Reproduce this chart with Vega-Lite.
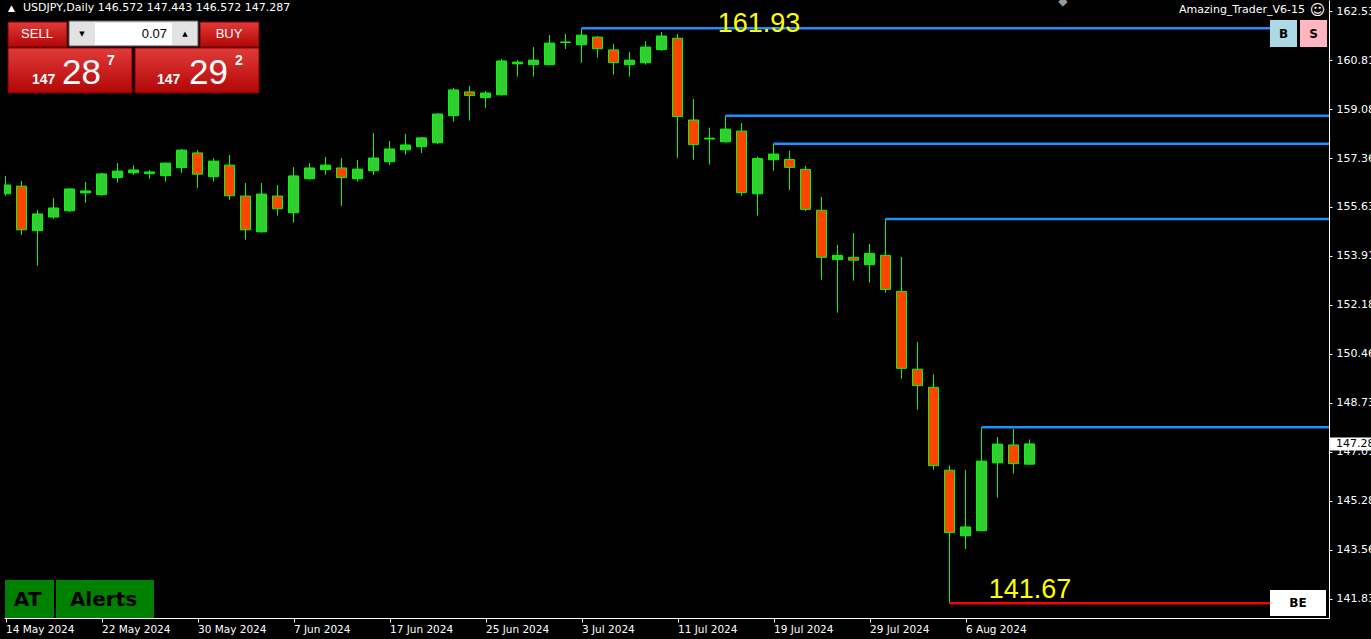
{
  "$schema": "https://vega.github.io/schema/vega-lite/v6.json",
  "width": 1325,
  "height": 618,
  "autosize": {"type": "none"},
  "padding": {"left": 4, "top": 0, "right": 42, "bottom": 21},
  "background": "#000000",
  "config": {
    "view": {"stroke": null, "fill": "#000000"},
    "scale": {"continuousPadding": 0},
    "axis": {"grid": false, "domainColor": "#FFFFFF", "tickColor": "#FFFFFF", "labelColor": "#FFFFFF", "labelFont": "DejaVu Sans"}
  },
  "datasets": {
    "candles": [
      {"i":0,"o":156.10,"h":156.73,"l":156.03,"c":156.41},
      {"i":1,"o":156.37,"h":156.55,"l":154.65,"c":154.83},
      {"i":2,"o":154.80,"h":155.53,"l":153.56,"c":155.39},
      {"i":3,"o":155.28,"h":155.95,"l":155.22,"c":155.60},
      {"i":4,"o":155.50,"h":156.29,"l":155.46,"c":156.27},
      {"i":5,"o":156.13,"h":156.52,"l":155.78,"c":156.20},
      {"i":6,"o":156.07,"h":156.84,"l":156.03,"c":156.80},
      {"i":7,"o":156.67,"h":157.18,"l":156.49,"c":156.90},
      {"i":8,"o":156.84,"h":157.11,"l":156.77,"c":156.94},
      {"i":9,"o":156.81,"h":156.94,"l":156.63,"c":156.87},
      {"i":10,"o":156.74,"h":157.20,"l":156.53,"c":157.18},
      {"i":11,"o":157.02,"h":157.68,"l":156.84,"c":157.64},
      {"i":12,"o":157.54,"h":157.64,"l":156.31,"c":156.79},
      {"i":13,"o":156.70,"h":157.36,"l":156.53,"c":157.25},
      {"i":14,"o":157.11,"h":157.47,"l":155.89,"c":156.03},
      {"i":15,"o":156.02,"h":156.48,"l":154.48,"c":154.83},
      {"i":16,"o":154.76,"h":156.48,"l":154.73,"c":156.09},
      {"i":17,"o":156.02,"h":156.41,"l":155.33,"c":155.57},
      {"i":18,"o":155.43,"h":157.04,"l":155.08,"c":156.73},
      {"i":19,"o":156.63,"h":157.18,"l":156.60,"c":157.01},
      {"i":20,"o":156.95,"h":157.40,"l":156.77,"c":157.11},
      {"i":21,"o":157.01,"h":157.36,"l":155.68,"c":156.67},
      {"i":22,"o":156.63,"h":157.29,"l":156.53,"c":156.97},
      {"i":23,"o":156.91,"h":158.24,"l":156.76,"c":157.36},
      {"i":24,"o":157.23,"h":157.96,"l":157.11,"c":157.68},
      {"i":25,"o":157.65,"h":158.21,"l":157.48,"c":157.82},
      {"i":26,"o":157.76,"h":158.10,"l":157.54,"c":158.07},
      {"i":27,"o":157.90,"h":158.93,"l":157.86,"c":158.91},
      {"i":28,"o":158.85,"h":159.83,"l":158.64,"c":159.76},
      {"i":29,"o":159.69,"h":159.90,"l":158.68,"c":159.56},
      {"i":30,"o":159.49,"h":159.72,"l":159.13,"c":159.65},
      {"i":31,"o":159.59,"h":160.85,"l":159.56,"c":160.78},
      {"i":32,"o":160.68,"h":160.81,"l":160.23,"c":160.74},
      {"i":33,"o":160.65,"h":161.27,"l":160.23,"c":160.81},
      {"i":34,"o":160.65,"h":161.69,"l":160.63,"c":161.41},
      {"i":35,"o":161.43,"h":161.73,"l":161.20,"c":161.45},
      {"i":36,"o":161.35,"h":161.93,"l":160.72,"c":161.69},
      {"i":37,"o":161.62,"h":161.66,"l":160.90,"c":161.21},
      {"i":38,"o":161.17,"h":161.38,"l":160.30,"c":160.72},
      {"i":39,"o":160.65,"h":161.10,"l":160.23,"c":160.81},
      {"i":40,"o":160.72,"h":161.48,"l":160.65,"c":161.27},
      {"i":41,"o":161.18,"h":161.80,"l":161.14,"c":161.66},
      {"i":42,"o":161.58,"h":161.73,"l":157.37,"c":158.82},
      {"i":43,"o":158.70,"h":159.44,"l":157.30,"c":157.83},
      {"i":44,"o":158.03,"h":158.43,"l":157.13,"c":158.06},
      {"i":45,"o":157.93,"h":158.85,"l":157.90,"c":158.38},
      {"i":46,"o":158.31,"h":158.59,"l":156.03,"c":156.14},
      {"i":47,"o":156.10,"h":157.41,"l":155.33,"c":157.34},
      {"i":48,"o":157.30,"h":157.86,"l":156.91,"c":157.50},
      {"i":49,"o":157.31,"h":157.62,"l":156.24,"c":157.03},
      {"i":50,"o":156.96,"h":157.09,"l":155.49,"c":155.55},
      {"i":51,"o":155.52,"h":155.99,"l":153.07,"c":153.86},
      {"i":52,"o":153.78,"h":154.30,"l":151.91,"c":153.93},
      {"i":53,"o":153.86,"h":154.72,"l":153.04,"c":153.76},
      {"i":54,"o":153.60,"h":154.33,"l":152.97,"c":154.00},
      {"i":55,"o":153.93,"h":155.21,"l":152.61,"c":152.73},
      {"i":56,"o":152.66,"h":153.87,"l":149.58,"c":149.95},
      {"i":57,"o":149.92,"h":150.88,"l":148.49,"c":149.34},
      {"i":58,"o":149.28,"h":149.74,"l":146.38,"c":146.52},
      {"i":59,"o":146.36,"h":146.53,"l":141.67,"c":144.16},
      {"i":60,"o":144.05,"h":146.37,"l":143.58,"c":144.36},
      {"i":61,"o":144.23,"h":147.87,"l":144.23,"c":146.68},
      {"i":62,"o":146.62,"h":147.53,"l":145.39,"c":147.28},
      {"i":63,"o":147.25,"h":147.81,"l":146.24,"c":146.59},
      {"i":64,"o":146.572,"h":147.443,"l":146.572,"c":147.287}
    ]
  },
  "layer": [
    {
      "data": {"name": "candles"},
      "mark": {"type": "rule", "color": "#00FF00", "strokeWidth": 1},
      "encoding": {
        "x": {"field": "i", "type": "quantitative", "title": null,
          "scale": {"domain": [-0.09375, 82.71875], "zero": false, "nice": false, "padding": 0},
          "axis": {"orient": "bottom", "values": [0,6,12,18,24,30,36,42,48,54,60],
            "labelExpr": "['14 May 2024','22 May 2024','30 May 2024','7 Jun 2024','17 Jun 2024','25 Jun 2024','3 Jul 2024','11 Jul 2024','19 Jul 2024','29 Jul 2024','6 Aug 2024'][round(datum.value/6)]",
            "title": null, "tickSize": 4, "labelAlign": "left", "labelBaseline": "top", "labelPadding": 2,
            "labelFont": "DejaVu Sans", "labelFontSize": 10.5, "labelFlush": false, "labelOverlap": false, "labelBound": false, "grid": false,
            "domainColor": "#FFFFFF", "tickColor": "#FFFFFF", "labelColor": "#FFFFFF"}},
        "y": {"field": "l", "type": "quantitative", "title": null,
          "scale": {"domain": [141.152, 162.928], "zero": false, "nice": false, "padding": 0},
          "axis": {"orient": "right", "values": [162.535,160.81,159.085,157.36,155.635,153.91,152.185,150.46,148.735,147.01,145.285,143.56,141.835],
            "labelExpr": "format(datum.value, '.3f')", "title": null, "tickSize": 3, "labelPadding": 4,
            "labelFont": "DejaVu Sans", "labelFontSize": 11, "labelBaseline": "middle", "labelFlush": false, "labelOverlap": false, "labelBound": false, "grid": false,
            "domainColor": "#FFFFFF", "tickColor": "#FFFFFF", "labelColor": "#FFFFFF"}},
        "y2": {"field": "h"}
      }
    },
    {
      "mark": {"type": "rule", "color": "#808080", "strokeWidth": 1},
      "encoding": {
        "y": {"datum": 147.287, "type": "quantitative", "title": null}
      }
    },
    {
      "mark": {"type": "rule", "color": "#FFFFFF", "strokeWidth": 1},
      "encoding": {
        "x": {"datum": -0.0625, "type": "quantitative", "title": null}
      }
    },
    {
      "data": {"name": "candles"},
      "mark": {"type": "bar", "size": 10, "stroke": "#00FF00", "strokeWidth": 1, "clip": true},
      "encoding": {
        "x": {"field": "i", "type": "quantitative", "title": null},
        "y": {"field": "o", "type": "quantitative", "title": null},
        "y2": {"field": "c"},
        "fill": {"condition": {"test": "datum.c >= datum.o", "value": "#32CD32"}, "value": "#FF4500"}
      }
    },
    {
      "data": {"values": [
        {"x": 36, "x2": 79.03, "y": 161.93},
        {"x": 45, "x2": 82.72, "y": 158.85},
        {"x": 48, "x2": 82.72, "y": 157.86},
        {"x": 55, "x2": 82.72, "y": 155.21},
        {"x": 61, "x2": 82.72, "y": 147.87}
      ]},
      "mark": {"type": "rule", "color": "#1E90FF", "strokeWidth": 2.5},
      "encoding": {
        "x": {"field": "x", "type": "quantitative", "title": null},
        "x2": {"field": "x2"},
        "y": {"field": "y", "type": "quantitative", "title": null}
      }
    },
    {
      "data": {"values": [{"x": 59, "x2": 79.03, "y": 141.67}]},
      "mark": {"type": "rule", "color": "#FF0000", "strokeWidth": 2.5},
      "encoding": {
        "x": {"field": "x", "type": "quantitative", "title": null},
        "x2": {"field": "x2"},
        "y": {"field": "y", "type": "quantitative", "title": null}
      }
    },
    {
      "data": {"values": [
        {"x": 47.09, "y": 162.08, "t": "161.93"},
        {"x": 64.03, "y": 142.14, "t": "141.67"}
      ]},
      "mark": {"type": "text", "color": "#FFFF00", "font": "Liberation Sans", "fontSize": 27, "align": "center", "baseline": "middle"},
      "encoding": {
        "x": {"field": "x", "type": "quantitative", "title": null},
        "y": {"field": "y", "type": "quantitative", "title": null},
        "text": {"field": "t"}
      }
    },
    {
      "data": {"values": [
        {"x": 0.156, "x2": 3.844, "y": 162.153, "y2": 161.272},
        {"x": 12.156, "x2": 15.844, "y": 162.153, "y2": 161.272},
        {"x": 0.156, "x2": 7.906, "y": 161.237, "y2": 159.651},
        {"x": 8.094, "x2": 15.844, "y": 161.237, "y2": 159.651}
      ]},
      "mark": {"type": "rect", "stroke": "#7A0000", "strokeWidth": 1,
        "fill": {"gradient": "linear", "x1": 0, "y1": 0, "x2": 0, "y2": 1, "stops": [{"offset": 0, "color": "#E23A3A"}, {"offset": 1, "color": "#B20606"}]}},
      "encoding": {
        "x": {"field": "x", "type": "quantitative", "title": null},
        "x2": {"field": "x2"},
        "y": {"field": "y", "type": "quantitative", "title": null},
        "y2": {"field": "y2"}
      }
    },
    {
      "data": {"values": [{"x": 3.969, "x2": 12.031, "y": 162.188, "y2": 161.307}]},
      "mark": {"type": "rect", "fill": "#E3E3E3", "stroke": "#606060", "strokeWidth": 1},
      "encoding": {
        "x": {"field": "x", "type": "quantitative", "title": null},
        "x2": {"field": "x2"},
        "y": {"field": "y", "type": "quantitative", "title": null},
        "y2": {"field": "y2"}
      }
    },
    {
      "data": {"values": [
        {"x": 5.594, "x2": 10.406, "y": 162.118, "y2": 161.342},
        {"x": 79.031, "x2": 82.531, "y": 142.139, "y2": 141.222},
        {"x": 82.781, "x2": 85.344, "y": 147.513, "y2": 147.054}
      ]},
      "mark": {"type": "rect", "fill": "#FFFFFF"},
      "encoding": {
        "x": {"field": "x", "type": "quantitative", "title": null},
        "x2": {"field": "x2"},
        "y": {"field": "y", "type": "quantitative", "title": null},
        "y2": {"field": "y2"}
      }
    },
    {
      "data": {"values": [
        {"x": -0.031, "x2": 3.031, "y": 142.491, "y2": 141.152},
        {"x": 3.156, "x2": 9.281, "y": 142.491, "y2": 141.152}
      ]},
      "mark": {"type": "rect", "fill": "#008000"},
      "encoding": {
        "x": {"field": "x", "type": "quantitative", "title": null},
        "x2": {"field": "x2"},
        "y": {"field": "y", "type": "quantitative", "title": null},
        "y2": {"field": "y2"}
      }
    },
    {
      "data": {"values": [{"x": 79.031, "x2": 80.719, "y": 162.223, "y2": 161.272}]},
      "mark": {"type": "rect", "fill": "#ADD8E6"},
      "encoding": {
        "x": {"field": "x", "type": "quantitative", "title": null},
        "x2": {"field": "x2"},
        "y": {"field": "y", "type": "quantitative", "title": null},
        "y2": {"field": "y2"}
      }
    },
    {
      "data": {"values": [{"x": 80.906, "x2": 82.594, "y": 162.223, "y2": 161.272}]},
      "mark": {"type": "rect", "fill": "#FFB6C1"},
      "encoding": {
        "x": {"field": "x", "type": "quantitative", "title": null},
        "x2": {"field": "x2"},
        "y": {"field": "y", "type": "quantitative", "title": null},
        "y2": {"field": "y2"}
      }
    },
    {
      "data": {"values": [
        {"x": 1.969, "y": 161.73, "t": "SELL"},
        {"x": 13.969, "y": 161.73, "t": "BUY"}
      ]},
      "mark": {"type": "text", "color": "#FFFFFF", "font": "Liberation Sans", "fontSize": 13, "align": "center", "baseline": "middle"},
      "encoding": {
        "x": {"field": "x", "type": "quantitative", "title": null},
        "y": {"field": "y", "type": "quantitative", "title": null},
        "text": {"field": "t"}
      }
    },
    {
      "data": {"values": [{"x": 10.094, "y": 161.73, "t": "0.07"}]},
      "mark": {"type": "text", "color": "#000000", "font": "Liberation Sans", "fontSize": 13, "align": "right", "baseline": "middle"},
      "encoding": {
        "x": {"field": "x", "type": "quantitative", "title": null},
        "y": {"field": "y", "type": "quantitative", "title": null},
        "text": {"field": "t"}
      }
    },
    {
      "data": {"values": [
        {"x": 4.781, "y": 161.73, "t": "▼"},
        {"x": 11.219, "y": 161.73, "t": "▲"}
      ]},
      "mark": {"type": "text", "color": "#000000", "font": "DejaVu Sans", "fontSize": 7, "align": "center", "baseline": "middle"},
      "encoding": {
        "x": {"field": "x", "type": "quantitative", "title": null},
        "y": {"field": "y", "type": "quantitative", "title": null},
        "text": {"field": "t"}
      }
    },
    {
      "data": {"values": [
        {"x": 1.656, "y": 159.968, "t": "147"},
        {"x": 6.344, "y": 160.638, "t": "7"},
        {"x": 9.469, "y": 159.968, "t": "147"},
        {"x": 14.344, "y": 160.638, "t": "2"}
      ]},
      "mark": {"type": "text", "color": "#FFFFFF", "font": "Liberation Sans", "fontSize": 14, "fontWeight": "bold", "align": "left", "baseline": "alphabetic"},
      "encoding": {
        "x": {"field": "x", "type": "quantitative", "title": null},
        "y": {"field": "y", "type": "quantitative", "title": null},
        "text": {"field": "t"}
      }
    },
    {
      "data": {"values": [
        {"x": 3.531, "y": 159.968, "t": "28"},
        {"x": 11.469, "y": 159.968, "t": "29"}
      ]},
      "mark": {"type": "text", "color": "#FFFFFF", "font": "Liberation Sans", "fontSize": 35, "align": "left", "baseline": "alphabetic"},
      "encoding": {
        "x": {"field": "x", "type": "quantitative", "title": null},
        "y": {"field": "y", "type": "quantitative", "title": null},
        "text": {"field": "t"}
      }
    },
    {
      "data": {"values": [{"x": 1.094, "y": 162.634, "t": "USDJPY,Daily  146.572 147.443 146.572 147.287"}]},
      "mark": {"type": "text", "color": "#FFFFFF", "font": "DejaVu Sans", "fontSize": 11, "align": "left", "baseline": "middle"},
      "encoding": {
        "x": {"field": "x", "type": "quantitative", "title": null},
        "y": {"field": "y", "type": "quantitative", "title": null},
        "text": {"field": "t"}
      }
    },
    {
      "data": {"values": [{"x": 0.375, "y": 162.646, "t": "▲"}]},
      "mark": {"type": "text", "color": "#FFFFFF", "font": "DejaVu Sans", "fontSize": 9, "align": "center", "baseline": "middle"},
      "encoding": {
        "x": {"field": "x", "type": "quantitative", "title": null},
        "y": {"field": "y", "type": "quantitative", "title": null},
        "text": {"field": "t"}
      }
    },
    {
      "data": {"values": [{"x": 81.219, "y": 162.576, "t": "Amazing_Trader_V6-15"}]},
      "mark": {"type": "text", "color": "#FFFFFF", "font": "DejaVu Sans", "fontSize": 11, "align": "right", "baseline": "middle"},
      "encoding": {
        "x": {"field": "x", "type": "quantitative", "title": null},
        "y": {"field": "y", "type": "quantitative", "title": null},
        "text": {"field": "t"}
      }
    },
    {
      "data": {"values": [{"x": 82.0, "y": 162.576, "t": "☺"}]},
      "mark": {"type": "text", "color": "#FFFFFF", "font": "DejaVu Sans", "fontSize": 15, "align": "center", "baseline": "middle"},
      "encoding": {
        "x": {"field": "x", "type": "quantitative", "title": null},
        "y": {"field": "y", "type": "quantitative", "title": null},
        "text": {"field": "t"}
      }
    },
    {
      "data": {"values": [{"x": 66.09, "y": 162.88, "t": "◆"}]},
      "mark": {"type": "text", "color": "#9A9A9A", "font": "DejaVu Sans", "fontSize": 12, "align": "center", "baseline": "middle"},
      "encoding": {
        "x": {"field": "x", "type": "quantitative", "title": null},
        "y": {"field": "y", "type": "quantitative", "title": null},
        "text": {"field": "t"}
      }
    },
    {
      "data": {"values": [
        {"x": 79.875, "y": 161.73, "t": "B"},
        {"x": 81.75, "y": 161.73, "t": "S"},
        {"x": 80.781, "y": 141.681, "t": "BE"}
      ]},
      "mark": {"type": "text", "color": "#000000", "font": "DejaVu Sans", "fontSize": 12, "fontWeight": "bold", "align": "center", "baseline": "middle"},
      "encoding": {
        "x": {"field": "x", "type": "quantitative", "title": null},
        "y": {"field": "y", "type": "quantitative", "title": null},
        "text": {"field": "t"}
      }
    },
    {
      "data": {"values": [
        {"x": 1.375, "y": 141.786, "t": "AT"},
        {"x": 6.125, "y": 141.786, "t": "Alerts"}
      ]},
      "mark": {"type": "text", "color": "#000000", "font": "DejaVu Sans", "fontSize": 20, "fontWeight": "bold", "align": "center", "baseline": "middle"},
      "encoding": {
        "x": {"field": "x", "type": "quantitative", "title": null},
        "y": {"field": "y", "type": "quantitative", "title": null},
        "text": {"field": "t"}
      }
    },
    {
      "data": {"values": [{"x": 83.156, "y": 147.283, "t": "147.287"}]},
      "mark": {"type": "text", "color": "#000000", "font": "DejaVu Sans", "fontSize": 11, "align": "left", "baseline": "middle"},
      "encoding": {
        "x": {"field": "x", "type": "quantitative", "title": null},
        "y": {"field": "y", "type": "quantitative", "title": null},
        "text": {"field": "t"}
      }
    }
  ]
}
